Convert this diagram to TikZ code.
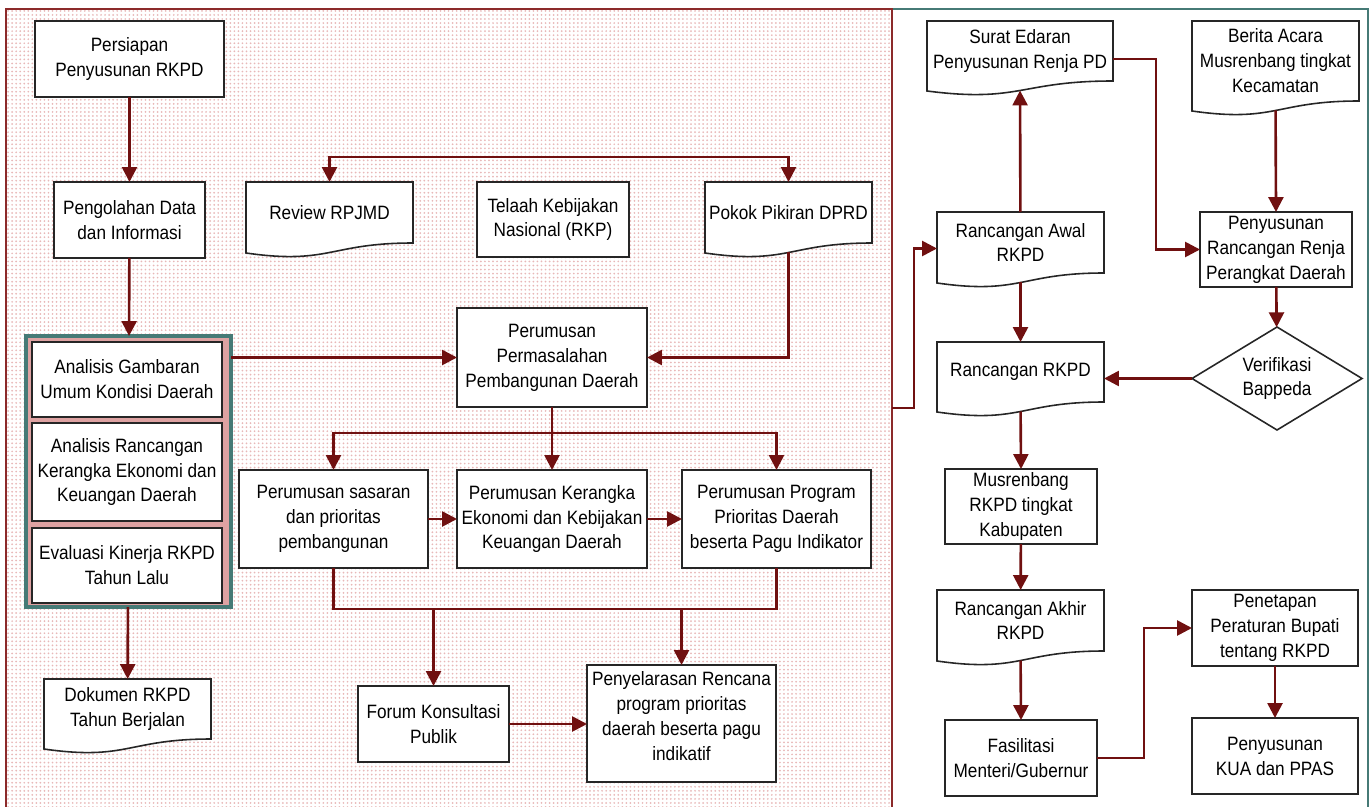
\documentclass[tikz,border=0pt]{standalone}
\usepackage{fontspec}
\setmainfont{Liberation Sans}[FakeStretch=0.89]
\usetikzlibrary{shapes.geometric,arrows.meta,patterns.meta,calc}
\definecolor{flow}{RGB}{112,16,16}
\definecolor{leftframe}{RGB}{140,42,42}
\definecolor{rightframe}{RGB}{70,122,118}
\definecolor{dotpink}{RGB}{232,184,184}
\definecolor{grouppink}{RGB}{222,162,162}

\begin{document}
\begin{tikzpicture}[x=0.02cm, y=-0.02cm,
  box/.style={draw=black!85, fill=white, line width=0.9pt, inner sep=0pt, outer sep=0pt, align=center, font=\fontsize{11}{14.2}\selectfont},
  wh/.style 2 args={minimum width=#1*0.02cm, minimum height=#2*0.02cm},
  doc/.style={box, draw=none, fill=none, append after command={\pgfextra{\filldraw[draw=black!85, fill=white, line width=0.9pt] (\tikzlastnode.north west) -- (\tikzlastnode.north east) -- (\tikzlastnode.south east) .. controls (\tikzlastnode.south) and ([yshift=-0.44cm]\tikzlastnode.south) .. ([yshift=-0.2cm]\tikzlastnode.south west) -- cycle;}}},
  group/.style={draw=rightframe, fill=grouppink, line width=1.8pt, inner sep=0pt, outer sep=0pt},
  wire/.style={draw=flow, line width=1.5pt},
  arr/.style={wire, -{Triangle[length=8.5pt,width=8.5pt]}},
  arrboth/.style={wire, {Triangle[length=8.5pt,width=8.5pt]}-{Triangle[length=8.5pt,width=8.5pt]}},
  fromdoc/.style={shorten <=0.19cm},
  todoc/.style={shorten >=0.19cm}]
\useasboundingbox (0,0) rectangle (1371,807);
\fill[white] (6,9) rectangle (892,820);
\fill[pattern={Dots[distance=2.3pt,radius=0.55pt]}, pattern color=dotpink] (6,9) rectangle (892,820);
\draw[rightframe, line width=1.2pt] (892,9) rectangle (1368,820);
\draw[leftframe, line width=1.2pt] (6,9) rectangle (892,820);
\coordinate (edge) at (892,408);

\node[box, wh={189}{76}] (persiapan) at (129.5,59) {Persiapan\\Penyusunan RKPD};
\node[box, wh={151}{76}] (pengolahan) at (129.5,220) {Pengolahan Data\\dan Informasi};
\node[doc, wh={167}{61}] (review) at (329.5,212.5) {Review RPJMD};
\node[box, wh={152}{75}] (telaah) at (553,219.5) {Telaah Kebijakan\\Nasional (RKP)};
\node[doc, wh={167}{61}] (pokok) at (788.5,212.5) {Pokok Pikiran DPRD};
\node[box, wh={190}{99}] (permasalahan) at (552,357.5) {Perumusan\\Permasalahan\\Pembangunan Daerah};
\node[group, wh={205}{271}] (analisis) at (128.5,471.5) {};
\node[box, wh={190}{75}] (gambaran) at (127,379.5) {Analisis Gambaran\\Umum Kondisi Daerah};
\node[box, wh={190}{98}] (keuangan) at (127,472) {Analisis Rancangan\\Kerangka Ekonomi dan\\Keuangan Daerah};
\node[box, wh={190}{75}] (evaluasi) at (127,565.5) {Evaluasi Kinerja RKPD\\Tahun Lalu};
\node[doc, wh={167}{60}] (dokumen) at (127.5,709) {Dokumen RKPD\\Tahun Berjalan};
\node[box, wh={189}{98}] (sasaran) at (333.5,519) {Perumusan sasaran\\dan prioritas\\pembangunan};
\node[box, wh={190}{98}] (kerangka) at (552,519) {Perumusan Kerangka\\Ekonomi dan Kebijakan\\Keuangan Daerah};
\node[box, wh={189}{98}] (program) at (776.5,519) {Perumusan Program\\Prioritas Daerah\\beserta Pagu Indikator};
\node[box, wh={151}{76}] (forum) at (433.5,724) {Forum Konsultasi\\Publik};
\node[box, wh={189}{117}, text depth=9pt] (selaras) at (681.5,723.5) {Penyelarasan Rencana\\program prioritas\\daerah beserta pagu\\indikatif};

\node[doc, wh={186}{60}] (surat) at (1020,51) {Surat Edaran\\Penyusunan Renja PD};
\node[doc, wh={167}{80}] (berita) at (1275.5,61) {Berita Acara\\Musrenbang tingkat\\Kecamatan};
\node[doc, wh={167}{61}] (awal) at (1020.5,242.5) {Rancangan Awal\\RKPD};
\node[box, wh={152}{75}] (renja) at (1276,249.5) {Penyusunan\\Rancangan Renja\\Perangkat Daerah};
\node[doc, wh={167}{60}] (rancangan) at (1020.5,372) {Rancangan RKPD};
\node[box, diamond, aspect=1.65, wh={170}{103}] (verifikasi) at (1277,378.5) {Verifikasi\\Bappeda};
\node[box, wh={152}{75}] (musrenbang) at (1021,506.5) {Musrenbang\\RKPD tingkat\\Kabupaten};
\node[doc, wh={167}{61}] (akhir) at (1020.5,620.5) {Rancangan Akhir\\RKPD};
\node[box, wh={152}{76}] (fasilitasi) at (1021,758) {Fasilitasi\\Menteri/Gubernur};
\node[box, wh={166}{76}] (penetapan) at (1275,628) {Penetapan\\Peraturan Bupati\\tentang RKPD};
\node[box, wh={166}{76}] (kua) at (1275,756) {Penyusunan\\KUA dan PPAS};

\draw[arr] (persiapan) -- (pengolahan);
\draw[arr] (pengolahan) -- (analisis);
\draw[arr] (analisis.east |- permasalahan.west) -- (permasalahan.west);
\draw[arr] (analisis) -- (dokumen);
\draw[arrboth] (review.north) -- ++(0,-25) -| (pokok.north);
\draw[arr, fromdoc] (pokok.south) |- (permasalahan.east);
\draw[arr] (permasalahan) -- (kerangka);
\draw[arrboth] (sasaran.north) -- ++(0,-37) -| (program.north);
\draw[arr] (sasaran) -- (kerangka);
\draw[arr] (kerangka) -- (program);
\draw[wire] (sasaran.south) -- ++(0,41) coordinate (bus) -| (program.south);
\draw[arr] (forum.north |- bus) -- (forum.north);
\draw[arr] (selaras.north |- bus) -- (selaras.north);
\draw[arr] (forum.east) -- (forum.east -| selaras.west);

\draw[arr, todoc] (awal) -- (surat.south);
\draw[arr] ($(surat.east)+(0,8)$) -- ++(43,0) |- (renja.west);
\draw[arr, fromdoc] (berita.south) -- (renja.north);
\draw[arr, fromdoc] (awal.south) -- (rancangan.north);
\draw[arr] (renja) -- (verifikasi);
\draw[arr] (verifikasi.west) -- (verifikasi.west -| rancangan.east);
\draw[arr] (edge) -- ++(22,0) |- ($(awal.west)+(0,6)$);
\draw[arr, fromdoc] (rancangan.south) -- (musrenbang.north);
\draw[arr] (musrenbang) -- (akhir);
\draw[arr, fromdoc] (akhir.south) -- (fasilitasi.north);
\draw[arr] (fasilitasi.east) -- ++(47,0) |- (penetapan.west);
\draw[arr] (penetapan) -- (kua);
\end{tikzpicture}
\end{document}
